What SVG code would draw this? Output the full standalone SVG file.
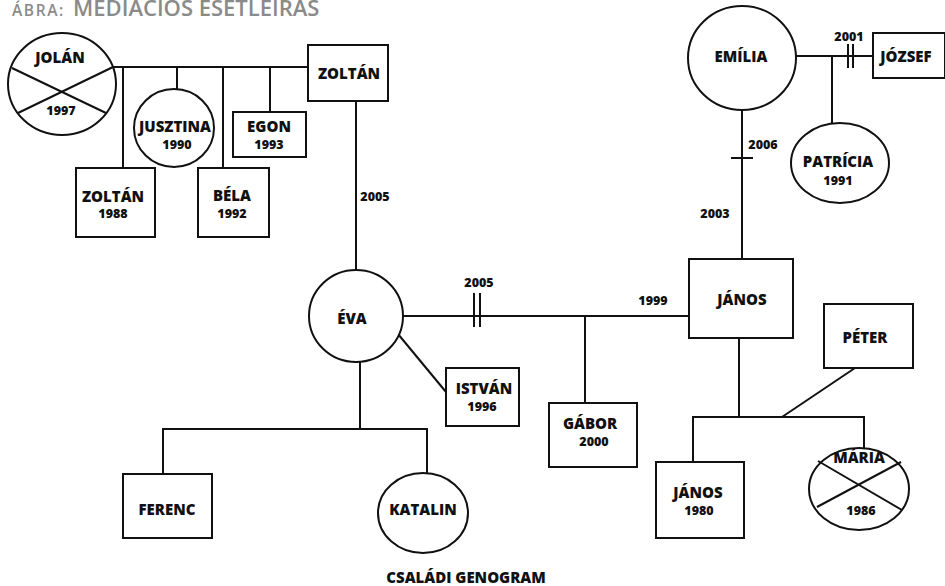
<svg xmlns="http://www.w3.org/2000/svg" width="945" height="586" viewBox="0 0 945 586">
<style>
.s{fill:#fff;stroke:#111;stroke-width:2}
.l{stroke:#111;stroke-width:2;fill:none}
.n{font-family:"Open Sans","Liberation Sans",sans-serif;font-weight:800;font-size:15px;fill:#111;text-anchor:middle}
.y{font-family:"Open Sans","Liberation Sans",sans-serif;font-weight:800;font-size:12.5px;fill:#111;text-anchor:middle}
.t{font-family:"Open Sans","Liberation Sans",sans-serif;font-weight:600;fill:#8a8a8a}
</style>
<rect width="945" height="586" fill="#fff"/>
<text class="t" x="12" y="16"><tspan font-size="15.5" letter-spacing="1.6">ÁBRA:</tspan><tspan x="73" font-size="22">MEDIÁCIÓS ESETLEÍRÁS</tspan></text>

<g id="connectors">
<line class="l" x1="113" y1="67" x2="308" y2="67"/>
<line class="l" x1="123" y1="67" x2="123" y2="168"/>
<line class="l" x1="177" y1="67" x2="177" y2="90"/>
<line class="l" x1="223" y1="67" x2="223" y2="168"/>
<line class="l" x1="270" y1="67" x2="270" y2="112"/>
<line class="l" x1="356" y1="101" x2="356" y2="270"/>
<line class="l" x1="402" y1="316" x2="689" y2="316"/>
<line class="l" x1="474" y1="293" x2="474" y2="327"/>
<line class="l" x1="480" y1="293" x2="480" y2="327"/>
<line class="l" x1="585" y1="316" x2="585" y2="403"/>
<line class="l" x1="398" y1="334" x2="446" y2="392"/>
<line class="l" x1="360" y1="361" x2="360" y2="429"/>
<line class="l" x1="163" y1="429" x2="427" y2="429"/>
<line class="l" x1="163" y1="428" x2="163" y2="474"/>
<line class="l" x1="427" y1="428" x2="427" y2="473"/>
<line class="l" x1="742" y1="110" x2="742" y2="259"/>
<line class="l" x1="731" y1="158" x2="753" y2="158"/>
<line class="l" x1="796" y1="56" x2="873" y2="56"/>
<line class="l" x1="848" y1="44" x2="848" y2="68"/>
<line class="l" x1="853" y1="44" x2="853" y2="68"/>
<line class="l" x1="832" y1="56" x2="832" y2="123"/>
<line class="l" x1="739" y1="338" x2="739" y2="417"/>
<line class="l" x1="693" y1="417" x2="864" y2="417"/>
<line class="l" x1="693" y1="416" x2="693" y2="462"/>
<line class="l" x1="864" y1="416" x2="864" y2="448"/>
<line class="l" x1="855" y1="368" x2="782" y2="417"/>
<text class="y" x="375" y="201">2005</text>
<text class="y" x="479" y="287">2005</text>
<text class="y" x="653" y="305">1999</text>
<text class="y" x="849" y="41">2001</text>
<text class="y" x="763" y="149">2006</text>
<text class="y" x="715" y="218">2003</text>
</g>

<g id="jolan">
<ellipse class="s" cx="62" cy="84" rx="54" ry="51"/>
<line class="l" x1="12" y1="68" x2="106" y2="113"/>
<line class="l" x1="18" y1="113" x2="113" y2="67"/>
<text class="n" x="60" y="63">JOLÁN</text>
<text class="y" x="61" y="115">1997</text>
</g>
<g id="zoltan-apa">
<rect class="s" x="308" y="45" width="80" height="56"/>
<text class="n" x="349" y="79">ZOLTÁN</text>
</g>
<g id="jusztina">
<ellipse class="s" cx="174" cy="128" rx="40" ry="39"/>
<text class="n" x="175" y="132">JUSZTINA</text>
<text class="y" x="177" y="149">1990</text>
</g>
<g id="egon">
<rect class="s" x="233" y="112" width="73" height="45"/>
<text class="n" x="269" y="132">EGON</text>
<text class="y" x="269" y="149">1993</text>
</g>
<g id="zoltan-1988">
<rect class="s" x="76" y="168" width="79" height="69"/>
<text class="n" x="113" y="202">ZOLTÁN</text>
<text class="y" x="113" y="218">1988</text>
</g>
<g id="bela">
<rect class="s" x="198" y="168" width="71" height="69"/>
<text class="n" x="232" y="201">BÉLA</text>
<text class="y" x="232" y="218">1992</text>
</g>
<g id="eva">
<ellipse class="s" cx="356" cy="316" rx="47" ry="46"/>
<text class="n" x="352" y="324">ÉVA</text>
</g>
<g id="istvan">
<rect class="s" x="446" y="368" width="73" height="58"/>
<text class="n" x="484" y="394">ISTVÁN</text>
<text class="y" x="482" y="411">1996</text>
</g>
<g id="gabor">
<rect class="s" x="549" y="403" width="88" height="64"/>
<text class="n" x="590" y="429">GÁBOR</text>
<text class="y" x="594" y="446">2000</text>
</g>
<g id="ferenc">
<rect class="s" x="123" y="474" width="89" height="64"/>
<text class="n" x="167" y="515">FERENC</text>
</g>
<g id="katalin">
<ellipse class="s" cx="423" cy="513" rx="45" ry="40"/>
<text class="n" x="423" y="515">KATALIN</text>
</g>
<g id="emilia">
<ellipse class="s" cx="742" cy="58" rx="54" ry="52"/>
<text class="n" x="741" y="62">EMÍLIA</text>
</g>
<g id="jozsef">
<rect class="s" x="873" y="33" width="72" height="45"/>
<text class="n" x="906" y="62">JÓZSEF</text>
</g>
<g id="patricia">
<ellipse class="s" cx="840" cy="163" rx="49" ry="40"/>
<text class="n" x="838" y="167">PATRÍCIA</text>
<text class="y" x="838" y="185">1991</text>
</g>
<g id="janos">
<rect class="s" x="689" y="259" width="104" height="79"/>
<text class="n" x="742" y="305">JÁNOS</text>
</g>
<g id="peter">
<rect class="s" x="824" y="304" width="89" height="64"/>
<text class="n" x="865" y="343">PÉTER</text>
</g>
<g id="janos-1980">
<rect class="s" x="656" y="462" width="88" height="76"/>
<text class="n" x="698" y="498">JÁNOS</text>
<text class="y" x="699" y="515">1980</text>
</g>
<g id="maria">
<ellipse class="s" cx="859" cy="489" rx="50" ry="41"/>
<line class="l" x1="818" y1="461" x2="902" y2="510"/>
<line class="l" x1="817" y1="507" x2="901" y2="462"/>
<text class="n" x="859" y="463">MÁRIA</text>
<text class="y" x="861" y="515">1986</text>
</g>
<text class="n" x="466" y="583" font-size="14.5">CSALÁDI GENOGRAM</text>
</svg>
